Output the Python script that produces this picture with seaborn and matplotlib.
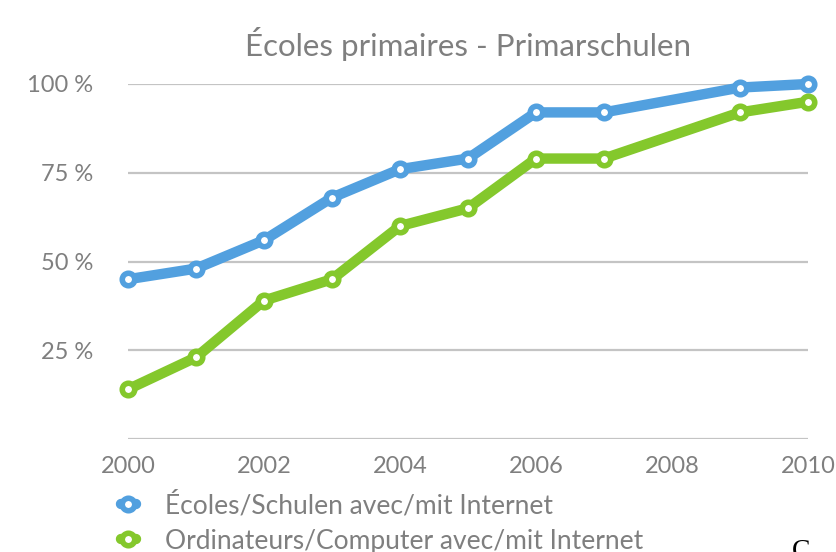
import matplotlib

matplotlib.use("Agg")
import matplotlib.pyplot as plt
import pandas as pd
import seaborn as sns

YEARS = [2000, 2001, 2002, 2003, 2004, 2005, 2006, 2007, 2009, 2010]
SCHOOLS = [45, 48, 56, 68, 76, 79, 92, 92, 99, 100]
COMPUTERS = [14, 23, 39, 45, 60, 65, 79, 79, 92, 95]
LABELS = ["Écoles/Schulen avec/mit Internet", "Ordinateurs/Computer avec/mit Internet"]
TITLE = "Écoles primaires - Primarschulen"
X_TICKS = [2000, 2002, 2004, 2006, 2008, 2010]
Y_TICKS = [0, 25, 50, 75, 100]

BLUE = "#52a0df"
GREEN = "#84c82c"
TEXT = "#7f7f7f"
GRID = "#c4c4c4"

sns.set_theme(style="white")
plt.rcParams["font.family"] = ["Lato", "DejaVu Sans"]

df = pd.DataFrame({"year": YEARS, "schools": SCHOOLS, "computers": COMPUTERS})

fig = plt.figure(figsize=(8.37, 5.52), dpi=100)
ax = fig.add_axes([128 / 837, 113 / 552, 680 / 837, 355 / 552])

for col, color, label in [("schools", BLUE, LABELS[0]), ("computers", GREEN, LABELS[1])]:
    sns.lineplot(data=df, x="year", y=col, ax=ax, color=color, lw=7.5,
                 marker="o", markersize=9, markeredgewidth=4,
                 markerfacecolor="white", markeredgecolor=color,
                 clip_on=False, label=label, zorder=3)

ax.set_xlim(2000, 2010)
ax.set_ylim(0, 100)
ax.set_xticks(X_TICKS)
ax.set_yticks(Y_TICKS)
ax.set_yticklabels(["" if v == 0 else f"{v} %" for v in Y_TICKS])
ax.tick_params(axis="both", length=0, labelsize=17, labelcolor=TEXT)
ax.tick_params(axis="y", pad=25)
ax.tick_params(axis="x", pad=12)
ax.grid(axis="y", color=GRID, lw=1.6)
ax.set_axisbelow(True)
sns.despine(ax=ax, left=True, bottom=True, top=True, right=True)
ax.set_xlabel("")
ax.set_ylabel("")
ax.set_title(TITLE, fontsize=22.5, color=TEXT, pad=20)

handles, labels = ax.get_legend_handles_labels()
ax.get_legend().remove()
fig.legend(handles, labels, loc="upper left", bbox_to_anchor=(110 / 837, 1 - 481 / 552),
           frameon=False, fontsize=19, labelcolor=TEXT, handlelength=0.6,
           handletextpad=1.1, labelspacing=0.4, borderaxespad=0)

fig.text(792 / 837, -6 / 552, "C", family="Liberation Serif", fontsize=20, color="black",
         va="baseline")

fig.savefig("out.png", dpi=100)
